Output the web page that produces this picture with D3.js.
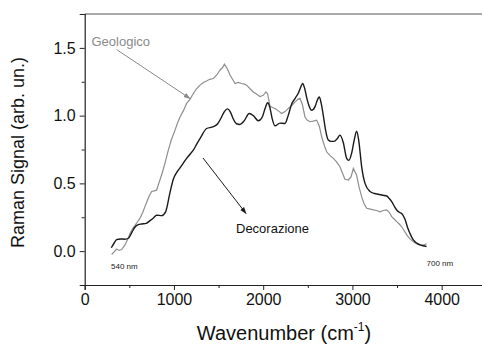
<!DOCTYPE html>
<html>
<head>
<meta charset="utf-8">
<script src="https://cdn.jsdelivr.net/npm/d3@7"></script>
<style>
  body { margin: 0; background: #fff; }
  svg { font-family: "Liberation Sans", Arial, sans-serif; }
</style>
</head>
<body>
<div id="chart"></div>
<script>
// wavenumber (cm-1) / signal pairs
const decorazioneX = [298, 330, 358, 400, 450, 489, 530, 564, 600, 638, 690, 731, 770, 806, 862, 907, 955, 993, 1030, 1068, 1105, 1142, 1180, 1217, 1255, 1300, 1366, 1441, 1490, 1534, 1565, 1600, 1630, 1665, 1700, 1740, 1790, 1844, 1890, 1945, 1990, 2020, 2050, 2075, 2100, 2132, 2188, 2244, 2280, 2319, 2360, 2393, 2420, 2442, 2465, 2487, 2515, 2543, 2580, 2610, 2629, 2650, 2674, 2700, 2730, 2760, 2793, 2830, 2860, 2898, 2935, 2960, 2990, 3020, 3047, 3070, 3104, 3141, 3197, 3250, 3290, 3340, 3384, 3410, 3440, 3470, 3496, 3530, 3552, 3589, 3620, 3645, 3675, 3701, 3730, 3757, 3790, 3830];
const decorazioneY = [0.025, 0.06, 0.085, 0.09, 0.088, 0.095, 0.14, 0.178, 0.195, 0.2, 0.205, 0.225, 0.245, 0.265, 0.262, 0.29, 0.43, 0.53, 0.58, 0.615, 0.65, 0.685, 0.715, 0.745, 0.79, 0.84, 0.905, 0.918, 0.94, 0.99, 1.03, 1.05, 1.03, 0.975, 0.94, 0.935, 0.965, 1.016, 1.0, 0.962, 0.99, 1.05, 1.095, 1.06, 0.98, 0.925, 0.945, 0.942, 1.0, 1.085, 1.13, 1.165, 1.21, 1.237, 1.2, 1.135, 1.07, 1.04, 1.065, 1.12, 1.138, 1.09, 1.0, 0.89, 0.82, 0.81, 0.81, 0.83, 0.856, 0.8, 0.685, 0.67, 0.72, 0.82, 0.885, 0.82, 0.62, 0.5, 0.44, 0.425, 0.42, 0.412, 0.407, 0.39, 0.365, 0.33, 0.304, 0.285, 0.278, 0.235, 0.17, 0.13, 0.09, 0.07, 0.055, 0.046, 0.04, 0.034];

const geologicoX = [302, 330, 358, 385, 414, 451, 480, 508, 535, 564, 590, 620, 650, 676, 700, 725, 750, 780, 806, 825, 843, 870, 900, 937, 970, 1012, 1040, 1068, 1105, 1142, 1180, 1217, 1255, 1292, 1330, 1366, 1400, 1441, 1480, 1516, 1545, 1565, 1585, 1610, 1628, 1655, 1684, 1720, 1759, 1790, 1815, 1850, 1889, 1925, 1964, 2000, 2031, 2050, 2076, 2105, 2132, 2170, 2207, 2245, 2281, 2320, 2356, 2390, 2412, 2440, 2468, 2495, 2524, 2560, 2599, 2630, 2655, 2685, 2711, 2750, 2786, 2820, 2860, 2898, 2916, 2954, 2985, 3010, 3047, 3075, 3104, 3130, 3160, 3200, 3235, 3270, 3309, 3345, 3384, 3415, 3440, 3470, 3496, 3525, 3552, 3580, 3608, 3645, 3682, 3720, 3757, 3795, 3831];
const geologicoY = [-0.025, -0.005, 0.015, 0.005, 0.012, 0.046, 0.085, 0.13, 0.165, 0.19, 0.215, 0.243, 0.285, 0.33, 0.37, 0.41, 0.44, 0.445, 0.45, 0.49, 0.525, 0.58, 0.65, 0.745, 0.82, 0.893, 0.945, 0.99, 1.035, 1.09, 1.12, 1.163, 1.2, 1.225, 1.245, 1.256, 1.268, 1.274, 1.3, 1.335, 1.355, 1.38, 1.36, 1.33, 1.3, 1.27, 1.237, 1.245, 1.237, 1.232, 1.225, 1.2, 1.175, 1.16, 1.14, 1.15, 1.175, 1.16, 1.07, 1.06, 1.053, 1.035, 1.016, 1.03, 1.053, 1.075, 1.1, 1.12, 1.127, 1.08, 0.99, 0.965, 0.955, 0.96, 0.967, 0.92, 0.844, 0.78, 0.733, 0.705, 0.685, 0.66, 0.623, 0.56, 0.53, 0.525, 0.55, 0.61, 0.56, 0.47, 0.4, 0.35, 0.316, 0.31, 0.304, 0.3, 0.29, 0.3, 0.304, 0.285, 0.255, 0.235, 0.218, 0.2, 0.18, 0.15, 0.12, 0.09, 0.07, 0.055, 0.046, 0.045, 0.054];

const xTicks = [0, 1000, 2000, 3000, 4000];
const xMinor = [500, 1500, 2500, 3500];
const yTicks = [0.0, 0.5, 1.0, 1.5];
const yMinor = [-0.25, 0.25, 0.75, 1.25];

const W = 482, H = 345;

const svg = d3.select('#chart').append('svg')
  .attr('width', W)
  .attr('height', H);

const x = d3.scaleLinear().domain([0, 4500]).range([84.7, 486.3]);
const y = d3.scaleLinear().domain([-0.25, 1.75]).range([285, 14]);

// frame: top line
svg.append('line')
  .attr('x1', x(0)).attr('x2', W)
  .attr('y1', y(1.75)).attr('y2', y(1.75))
  .attr('stroke', '#555').attr('stroke-width', 1);

svg.append('g')
  .attr('transform', `translate(0,${y(-0.25)})`)
  .call(d3.axisBottom(x).tickValues(xTicks).tickFormat(d3.format('d')).tickSize(5).tickPadding(4));
svg.append('g')
  .attr('transform', `translate(0,${y(-0.25)})`)
  .call(d3.axisBottom(x).tickValues(xMinor).tickFormat('').tickSize(3))
  .select('.domain').remove();

svg.append('g')
  .attr('transform', `translate(${x(0)},0)`)
  .call(d3.axisLeft(y).tickValues(yTicks).tickFormat(d3.format('.1f')).tickSize(5).tickPadding(4));
svg.append('g')
  .attr('transform', `translate(${x(0)},0)`)
  .call(d3.axisLeft(y).tickValues(yMinor).tickFormat('').tickSize(3))
  .select('.domain').remove();

svg.selectAll('.domain').attr('stroke', '#222').attr('stroke-width', 1.2);
svg.selectAll('.tick line').attr('stroke', '#222');
svg.selectAll('.tick text')
  .attr('font-size', 16)
  .attr('fill', '#111')
  .attr('font-family', '"Liberation Sans", Arial, sans-serif');

// axis titles
svg.append('text')
  .attr('transform', `translate(24,${(14 + 285) / 2 + 3}) rotate(-90)`)
  .attr('text-anchor', 'middle')
  .attr('font-size', 18)
  .attr('fill', '#111')
  .text('Raman Signal (arb. un.)');

const xt = svg.append('text')
  .attr('x', 284)
  .attr('y', 340)
  .attr('text-anchor', 'middle')
  .attr('font-size', 20)
  .attr('fill', '#111');
xt.append('tspan').text('Wavenumber (cm');
xt.append('tspan').attr('font-size', 12).attr('dy', -9).text('-1');
xt.append('tspan').attr('dy', 9).text(')');

// curves
const decorazione = decorazioneX.map((v, i) => [v, decorazioneY[i]]);
const geologico = geologicoX.map((v, i) => [v, geologicoY[i]]);

svg.append('path')
  .datum(geologico)
  .attr('fill', 'none')
  .attr('stroke', '#8e8e8e')
  .attr('stroke-width', 1.2)
  .attr('d', d3.line().x(d => x(d[0])).y(d => y(d[1])).curve(d3.curveLinear));

svg.append('path')
  .datum(decorazione)
  .attr('fill', 'none')
  .attr('stroke', '#1a1a1a')
  .attr('stroke-width', 1.4)
  .attr('d', d3.line().x(d => x(d[0])).y(d => y(d[1])).curve(d3.curveMonotoneX));

// arrows
const defs = svg.append('defs');
[['grayHead', '#8a8a8a'], ['blackHead', '#1a1a1a']].forEach(([id, c]) => {
  defs.append('marker')
    .attr('id', id)
    .attr('viewBox', '0 0 10 10')
    .attr('refX', 9).attr('refY', 5)
    .attr('markerWidth', 7).attr('markerHeight', 7)
    .attr('orient', 'auto')
    .append('path')
    .attr('d', 'M0,1.5 L10,5 L0,8.5 Z')
    .attr('fill', c);
});

svg.append('line')
  .attr('x1', 116.5).attr('y1', 49.5)
  .attr('x2', 190).attr('y2', 98.5)
  .attr('stroke', '#8a8a8a').attr('stroke-width', 1)
  .attr('marker-end', 'url(#grayHead)');

svg.append('line')
  .attr('x1', 203).attr('y1', 158)
  .attr('x2', 246).attr('y2', 213.5)
  .attr('stroke', '#1a1a1a').attr('stroke-width', 1)
  .attr('marker-end', 'url(#blackHead)');

// labels
svg.append('text')
  .attr('x', 91.5).attr('y', 46)
  .attr('font-size', 13)
  .attr('fill', '#8a8a8a')
  .text('Geologico');

svg.append('text')
  .attr('x', 236).attr('y', 232.5)
  .attr('font-size', 13)
  .attr('fill', '#111')
  .text('Decorazione');

svg.append('text')
  .attr('x', 111).attr('y', 269)
  .attr('font-size', 8)
  .attr('fill', '#222')
  .text('540 nm');

svg.append('text')
  .attr('x', 426.5).attr('y', 266)
  .attr('font-size', 8)
  .attr('fill', '#222')
  .text('700 nm');
</script>
</body>
</html>
